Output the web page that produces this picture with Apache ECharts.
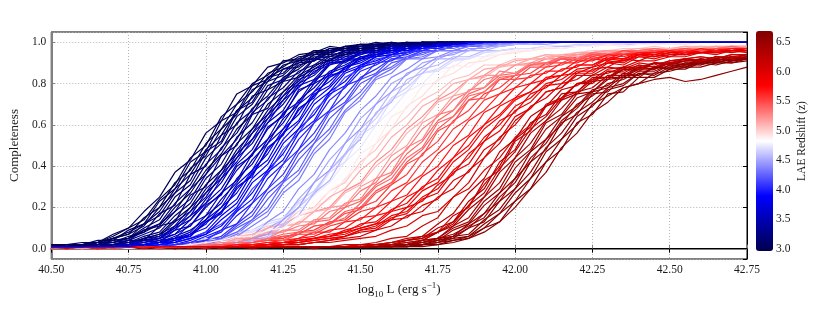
<!DOCTYPE html>
<html>
<head>
<meta charset="utf-8">
<title>LAE completeness</title>
<script src="https://cdn.jsdelivr.net/npm/echarts@6/dist/echarts.min.js"></script>
<style>
  html, body { margin: 0; padding: 0; background: #fff; }
  #main { width: 830px; height: 323px; }
</style>
</head>
<body>
<div id="main"></div>
<script>
// log10 L grid the completeness was sampled on
var lumGrid = [40.50, 40.55, 40.60, 40.65, 40.70, 40.75, 40.80, 40.85, 40.90, 40.95,
               41.00, 41.05, 41.10, 41.15, 41.20, 41.25, 41.30, 41.35, 41.40, 41.45,
               41.50, 41.55, 41.60, 41.65, 41.70, 41.75, 41.80, 41.85, 41.90, 41.95,
               42.00, 42.05, 42.10, 42.15, 42.20, 42.25, 42.30, 42.35, 42.40, 42.45,
               42.50, 42.55, 42.60, 42.65, 42.70, 42.75];

// redshift of each curve (same order as completeness)
var redshifts = [6.62, 3.00, 6.12, 4.65, 3.35, 5.45, 3.75, 6.42, 5.05, 3.05,
                 5.82, 4.20, 6.28, 3.10, 5.25, 3.85, 6.50, 4.75, 3.42, 5.65,
                 3.15, 6.20, 4.30, 5.32, 3.50, 6.60, 3.92, 5.90, 3.22, 4.85,
                 6.35, 3.55, 5.40, 4.40, 4.00, 5.95, 3.28, 6.55, 4.95, 3.62,
                 5.55, 4.50, 4.08, 6.00, 3.08, 5.15, 3.68, 6.05, 4.58, 4.12,
                 6.45, 2.99, 5.75, 3.45,
                 6.10, 3.02, 5.10, 3.45, 4.15, 6.48, 3.10, 5.58, 3.52, 4.70,
                 6.64, 3.18, 5.80, 3.60, 4.25, 6.38, 3.25, 5.20, 3.70, 4.35,
                 6.67, 3.30, 5.92, 3.78, 4.45, 6.25, 3.02, 5.30, 3.88, 4.55,
                 6.52, 3.38, 5.38, 3.95, 4.90, 6.58, 2.98, 5.48, 4.05, 6.30,
                 3.12, 5.70, 3.55, 5.98, 3.20, 3.72];

// completeness in percent, one row per curve, one value per lumGrid point
var completeness = [
  [1,1,1,1,1,1,1,1,1,1, 1,1,1,1,1,1,1,1,1,1, 1,1,1,1,1,2,3,5,8,13, 20,29,37,49,56,66,71,78,80,85, 86,88,88,90,90,91],
  [2,1,2,3,6,10,14,24,31,44, 50,64,70,80,84,91,92,96,96,98, 99,98,99,100,99,100,100,100,100,100, 100,100,100,100,100,100,100,100,100,100, 100,100,100,100,100,100],
  [1,1,0,1,1,1,1,1,1,1, 1,1,1,1,1,1,1,1,1,2, 2,3,5,6,11,15,25,32,44,51, 62,68,76,78,84,84,88,87,90,89, 91,92,93,92,94,94],
  [1,0,1,1,1,1,1,1,2,3, 4,5,8,9,13,15,23,28,38,45, 56,63,73,78,85,87,92,92,95,96, 97,96,98,98,99,99,99,99,100,99, 100,100,100,100,100,100],
  [1,1,2,1,2,2,5,7,11,20, 27,38,46,58,65,76,81,89,91,95, 95,97,98,99,98,99,100,100,100,100, 100,100,100,100,100,100,100,100,100,100, 100,100,100,100,100,100],
  [0,1,1,1,1,1,1,1,1,1, 1,2,3,4,5,6,7,11,12,18, 20,28,32,42,48,58,64,72,76,82, 84,89,89,92,92,94,94,95,95,96, 96,97,96,97,97,97],
  [1,1,1,1,1,1,2,2,4,7, 12,20,27,38,46,58,65,76,81,88, 91,94,95,97,97,98,99,99,100,100, 100,100,100,100,100,100,100,100,100,100, 100,100,100,100,100,100],
  [1,1,1,1,1,1,1,1,0,1, 1,1,1,1,1,1,1,1,1,1, 1,1,1,2,3,4,9,12,21,27, 39,47,58,64,73,76,82,83,87,87, 90,89,91,91,93,92],
  [0,1,1,1,1,1,1,1,2,3, 4,5,7,8,11,12,18,20,28,32, 42,48,58,64,72,76,82,84,89,89, 92,92,94,94,95,96,96,97,97,98, 97,98,98,98,98,98],
  [1,2,1,3,5,7,11,20,27,39, 45,58,65,77,81,89,91,95,95,97, 98,99,98,99,100,99,100,100,100,100, 100,100,100,100,100,100,100,100,100,100, 100,100,100,100,100,100],
  [1,1,1,1,1,0,1,1,1,1, 1,1,1,1,2,3,4,5,6,8, 10,12,18,20,28,32,42,48,58,64, 72,76,82,84,89,89,92,92,94,94, 95,96,95,96,97,96],
  [0,1,1,1,1,1,1,1,1,2, 3,5,10,14,24,32,43,51,63,70, 80,84,90,92,95,96,98,98,99,100, 100,100,100,100,100,100,100,100,100,100, 100,100,100,100,100,100],
  [1,1,1,1,0,1,1,1,1,1, 1,1,1,1,1,1,1,1,1,1, 1,1,2,3,4,8,12,21,27,39, 47,58,64,73,76,82,83,87,87,90, 89,91,91,93,92,93],
  [1,1,2,2,4,5,10,14,25,31, 44,51,64,70,81,84,91,92,96,97, 97,99,99,98,100,100,99,100,100,100, 100,100,100,100,100,100,100,100,100,100, 100,100,100,100,100,100],
  [1,1,1,0,1,1,1,1,1,2, 3,4,5,7,7,11,12,18,20,28, 32,42,48,58,64,72,76,82,84,89, 89,92,92,94,94,95,96,95,96,97, 97,97,98,97,98,98],
  [0,1,1,1,1,1,1,2,3,5, 8,16,22,34,41,53,61,72,78,86, 89,93,94,97,97,99,99,100,100,100, 100,100,100,100,100,100,100,100,100,100, 100,100,100,100,100,100],
  [1,0,1,1,1,1,1,1,1,1, 1,1,1,1,1,1,1,1,1,1, 1,1,1,2,3,5,7,11,15,25, 32,44,51,62,68,76,78,84,84,88, 87,89,89,91,90,92],
  [0,1,1,1,1,1,1,1,1,2, 3,4,6,9,10,15,18,26,32,42, 49,60,67,76,80,87,88,93,93,96, 96,97,97,98,98,99,99,99,99,100, 99,100,100,100,100,100],
  [1,1,1,1,1,2,3,5,10,14, 24,32,44,51,63,70,80,84,91,92, 95,96,98,99,99,100,99,100,100,100, 100,100,100,100,100,100,100,100,100,100, 100,100,100,100,100,100],
  [1,0,1,1,1,1,1,1,1,1, 1,1,2,2,3,4,5,8,8,13, 14,20,23,31,36,46,52,62,67,75, 78,84,85,90,90,93,92,95,94,96, 96,96,97,96,97,97],
  [1,1,1,2,3,5,8,12,18,29, 36,49,56,68,74,83,87,93,93,96, 97,98,97,99,99,100,99,100,100,100, 100,100,100,100,100,100,100,100,100,100, 100,100,100,100,100,100],
  [1,0,1,1,1,1,1,1,1,1, 1,1,1,1,1,1,1,1,1,1, 2,2,3,4,5,8,13,21,31,40, 53,59,70,73,80,81,86,86,89,88, 90,91,92,91,93,93],
  [1,1,0,1,1,1,1,1,1,2, 2,4,7,13,18,29,36,48,56,67, 74,83,87,92,93,96,96,98,98,99, 99,100,100,100,100,100,100,100,100,100, 100,100,100,100,100,100],
  [0,1,1,1,1,1,1,1,1,1, 2,3,4,5,7,8,11,12,18,20, 28,32,42,48,58,64,72,76,82,84, 89,89,92,92,94,94,95,95,96,96, 97,96,97,97,98,97],
  [1,1,1,1,1,2,3,4,7,11, 20,27,38,46,58,65,76,81,89,91, 94,96,97,97,98,99,99,100,100,100, 100,100,100,100,100,100,100,100,100,100, 100,100,100,100,100,100],
  [1,1,1,1,1,1,1,1,1,1, 1,1,1,1,1,1,1,1,1,1, 1,1,1,1,2,3,4,6,10,17, 23,34,42,53,60,70,74,78,80,82, 83,81,82,84,86,88],
  [1,1,1,1,1,1,1,2,2,4, 7,11,19,27,38,46,58,65,76,81, 89,91,94,95,97,98,98,99,99,100, 100,100,100,100,100,100,100,100,100,100, 100,100,100,100,100,100],
  [0,1,1,1,1,1,1,1,1,1, 1,1,1,1,2,2,3,4,5,6, 9,11,16,18,25,29,38,44,54,60, 69,73,80,82,87,88,92,91,94,93, 95,95,96,96,96,97],
  [1,1,1,2,2,3,6,8,16,22, 34,41,54,61,73,78,86,89,94,95, 97,97,99,98,99,100,100,99,100,100, 100,100,100,100,100,100,100,100,100,100, 100,100,100,100,100,100],
  [1,1,0,1,1,1,1,1,1,2, 3,3,5,8,9,13,15,23,28,38, 45,56,63,73,78,85,87,92,92,95, 96,97,97,98,98,99,98,99,99,100, 99,100,100,100,100,100],
  [1,1,1,0,1,1,1,1,1,1, 1,1,1,1,1,1,1,1,1,1, 1,1,2,2,4,5,11,15,25,32, 44,51,62,68,76,78,84,84,88,87, 90,89,92,91,93,92],
  [1,1,1,1,1,1,2,3,5,8, 16,22,34,41,53,61,72,78,86,89, 93,94,97,98,98,99,100,100,100,100, 100,100,100,100,100,100,100,100,100,100, 100,100,100,100,100,100],
  [1,1,0,1,1,1,1,1,1,1, 2,2,3,4,5,7,8,13,14,20, 23,31,36,46,52,62,67,75,78,84, 85,89,90,92,93,94,94,95,96,96, 97,96,97,97,97,98],
  [1,1,1,1,1,1,1,1,1,1, 2,2,4,6,13,18,29,36,48,56, 67,74,83,87,92,93,96,96,98,98, 99,99,100,100,100,100,100,100,100,100, 100,100,100,100,100,100],
  [0,1,1,1,1,1,1,1,2,3, 5,8,16,22,34,41,53,61,72,78, 86,89,93,94,97,97,99,99,100,100, 100,100,100,100,100,100,100,100,100,100, 100,100,100,100,100,100],
  [1,1,0,1,1,1,1,1,1,1, 1,1,2,1,2,3,3,5,6,7, 10,12,14,20,23,31,36,46,52,62, 66,75,78,84,85,88,90,91,93,93, 94,94,95,95,96,96],
  [1,1,1,1,2,3,4,6,13,18, 29,36,48,56,67,74,83,87,92,94, 96,97,97,98,99,99,100,99,100,100, 100,100,100,100,100,100,100,100,100,100, 100,100,100,100,100,100],
  [1,1,1,1,1,1,1,1,1,1, 1,1,1,0,1,1,1,1,1,1, 1,1,1,1,2,3,6,7,14,19, 29,37,49,56,66,71,78,80,85,85, 89,88,91,90,92,92],
  [1,1,1,1,0,1,1,1,1,1, 2,3,4,7,8,11,13,20,24,34, 40,51,58,69,74,82,85,90,91,94, 95,96,97,97,98,98,99,98,99,99, 99,99,100,100,100,100],
  [1,0,1,1,1,1,2,3,4,6, 13,18,29,36,48,56,67,74,83,87, 92,93,96,96,98,98,99,99,100,100, 100,100,100,100,100,100,100,100,100,100, 100,100,100,100,100,100],
  [1,1,1,1,0,1,1,1,1,1, 1,2,2,3,5,5,8,9,13,14, 20,23,31,36,46,52,62,67,75,78, 84,85,90,90,93,93,95,94,96,95, 96,97,97,96,97,97],
  [1,1,1,1,1,1,1,1,1,1, 1,2,3,5,10,14,24,32,43,51, 63,70,80,84,90,92,95,96,98,98, 99,99,99,100,100,100,100,100,100,100, 100,100,100,100,100,100],
  [1,1,1,1,1,1,1,1,2,2, 4,6,12,18,29,36,48,56,67,74, 83,87,92,93,96,96,98,98,99,99, 100,100,100,100,100,100,100,100,100,100, 100,100,100,100,100,100],
  [1,1,1,1,1,1,1,1,1,1, 0,1,1,1,1,2,2,3,3,4, 5,6,9,11,16,18,25,29,38,44, 54,60,69,73,80,82,87,88,91,91, 93,93,95,94,96,95],
  [2,1,2,2,5,8,12,18,29,36, 48,55,67,73,83,87,90,94,95,97, 97,98,99,99,99,100,100,100,100,100, 100,100,100,100,100,100,100,100,100,100, 100,100,100,100,100,100],
  [1,0,1,1,1,1,1,1,2,2, 3,4,6,7,10,12,16,18,25,29, 38,44,54,60,69,73,80,82,87,88, 91,92,94,93,95,95,96,96,97,97, 97,98,97,98,98,98],
  [1,1,1,1,2,2,4,5,9,16, 22,34,42,53,61,72,78,86,89,93, 94,97,97,99,98,100,100,100,100,100, 100,100,100,100,100,100,100,100,100,100, 100,100,100,100,100,100],
  [1,1,1,1,1,1,1,1,0,1, 1,1,1,1,1,2,2,3,4,5, 6,9,11,16,18,25,29,38,44,54, 60,69,73,80,82,87,88,92,91,94, 93,95,95,96,95,96],
  [1,1,1,1,1,1,1,1,1,1, 1,2,3,4,6,12,20,27,38,46, 58,65,76,80,87,89,93,93,96,96, 97,97,98,98,98,99,99,99,99,100, 100,100,100,100,100,100],
  [1,1,1,1,1,1,2,2,3,5, 8,12,18,29,36,48,56,67,74,83, 87,92,93,96,96,98,99,99,100,100, 100,100,100,100,100,100,100,100,100,100, 100,100,100,100,100,100],
  [1,1,1,1,1,1,1,0,1,1, 1,1,1,1,1,1,1,1,1,1, 1,1,2,2,3,4,6,10,17,23, 34,42,53,60,70,74,80,82,86,86, 89,89,90,92,91,93],
  [1,2,1,3,3,5,9,11,20,27, 38,46,58,65,77,81,89,91,95,97, 96,98,99,98,100,99,100,100,100,100, 100,100,100,100,100,100,100,100,100,100, 100,100,100,100,100,100],
  [1,1,1,0,1,1,1,1,1,1, 1,1,1,2,2,3,4,5,6,9, 11,16,18,25,29,38,44,54,60,69, 73,80,82,87,88,92,91,94,94,95, 96,95,96,97,96,97],
  [1,1,1,1,1,2,2,3,6,9, 14,24,32,43,51,63,70,80,84,91, 92,95,96,98,99,99,100,100,100,100, 100,100,100,100,100,100,100,100,100,100, 100,100,100,100,100,100],
  [1,1,1,1,1,1,1,1,1,1, 1,1,1,1,1,1,1,1,1,1, 2,2,3,4,6,8,16,20,33,38, 52,57,69,72,80,80,86,85,89,88, 91,92,93,92,94,94],
  [2,2,3,3,7,10,18,25,37,43, 56,62,75,79,88,90,94,95,98,97, 99,99,100,99,100,100,100,100,100,100, 100,100,100,100,100,100,100,100,100,100, 100,100,100,100,100,100],
  [0,1,1,1,1,1,1,1,1,3, 2,4,4,6,7,11,12,18,19,27, 31,40,46,56,62,71,74,82,83,88, 89,92,92,94,93,95,95,96,96,97, 97,97,98,97,98,98],
  [1,1,1,1,1,2,5,6,10,18, 25,36,44,56,63,74,80,87,90,94, 95,97,97,99,98,99,100,100,100,100, 100,100,100,100,100,100,100,100,100,100, 100,100,100,100,100,100],
  [1,1,1,1,1,1,1,1,2,2, 4,5,11,16,27,33,46,53,66,71, 82,85,92,92,96,96,98,99,99,100, 100,100,100,100,100,100,100,100,100,100, 100,100,100,100,100,100],
  [1,1,1,1,1,1,1,1,1,1, 1,1,1,1,1,1,1,1,1,1, 1,1,2,2,4,5,10,13,23,29, 42,48,61,65,75,76,83,83,88,87, 90,89,92,91,93,92],
  [1,2,2,4,4,9,12,23,29,42, 47,62,66,79,82,91,91,96,95,98, 98,100,99,99,100,100,100,100,100,100, 100,100,100,100,100,100,100,100,100,100, 100,100,100,100,100,100],
  [1,1,1,1,1,1,1,0,1,1, 1,2,2,3,4,4,7,7,11,13, 18,20,28,32,42,48,58,63,72,75, 82,83,88,89,92,92,94,94,95,96, 96,96,97,96,97,97],
  [1,1,1,1,1,2,3,5,7,14, 22,29,41,48,61,67,79,82,90,91, 95,95,98,97,99,99,100,100,100,100, 100,100,100,100,100,100,100,100,100,100, 100,100,100,100,100,100],
  [1,1,0,1,1,1,1,1,2,3, 5,4,8,8,12,14,22,26,37,42, 55,60,72,76,85,86,91,92,95,96, 97,97,98,97,98,99,99,99,100,99, 100,100,100,100,100,100],
  [1,1,1,1,1,1,1,1,0,1, 1,1,1,1,1,1,1,1,1,1, 1,1,1,1,2,3,5,6,12,17, 27,34,47,53,64,69,77,79,85,84, 88,88,90,90,92,92],
  [1,1,2,2,4,5,12,16,27,33, 47,52,67,71,83,85,92,92,97,96, 98,98,99,100,99,100,100,100,100,100, 100,100,100,100,100,100,100,100,100,100, 100,100,100,100,100,100],
  [1,1,1,1,1,1,1,1,1,1, 1,1,1,2,2,3,4,5,7,8, 12,13,19,22,30,34,44,50,60,65, 73,76,83,84,89,89,93,92,95,94, 96,95,97,96,97,97],
  [1,1,1,1,1,2,2,4,5,12, 16,27,33,46,53,66,71,82,85,92, 92,96,96,98,99,99,100,100,100,100, 100,100,100,100,100,100,100,100,100,100, 100,100,100,100,100,100],
  [1,1,1,1,1,1,1,1,1,2, 3,5,8,14,20,32,38,51,58,70, 76,85,88,93,94,97,97,99,99,100, 100,100,100,100,100,100,100,100,100,100, 100,100,100,100,100,100],
  [1,1,1,1,1,1,1,1,1,0, 1,1,1,1,1,1,1,1,1,1, 1,1,2,3,4,8,11,19,25,37, 44,56,62,72,75,81,82,87,86,90, 89,91,91,93,92,93],
  [1,1,1,2,3,4,9,12,22,29, 41,48,61,67,79,82,90,91,96,96, 98,98,99,99,100,100,100,100,100,100, 100,100,100,100,100,100,100,100,100,100, 100,100,100,100,100,100],
  [1,1,0,1,1,1,1,1,1,2, 3,2,5,5,8,8,13,13,20,21, 30,34,45,50,61,65,74,76,84,84, 89,90,93,93,94,95,96,95,96,97, 96,97,97,98,97,98],
  [1,1,1,1,1,1,2,3,5,7, 14,20,31,38,51,58,70,76,85,88, 93,94,97,97,99,98,100,100,100,100, 100,100,100,100,100,100,100,100,100,100, 100,100,100,100,100,100],
  [1,1,1,1,1,1,1,1,1,1, 2,4,6,11,16,27,33,46,53,66, 72,82,85,92,92,96,96,98,99,99, 100,100,100,100,100,100,100,100,100,100, 100,100,100,100,100,100],
  [1,1,1,1,1,1,1,1,1,1, 1,1,1,1,1,1,1,1,1,1, 1,1,1,1,2,2,4,5,10,13, 23,29,42,48,61,65,75,76,83,83, 87,87,90,89,91,92],
  [1,1,1,2,2,4,7,10,18,24, 36,45,53,66,72,82,85,92,93,96, 96,98,99,98,100,99,100,100,100,100, 100,100,100,100,100,100,100,100,100,100, 100,100,100,100,100,100],
  [1,0,1,1,1,1,1,1,1,1, 1,1,1,1,2,2,3,4,5,6, 9,10,15,17,24,27,37,41,52,57, 67,71,79,80,86,86,91,90,94,93, 95,94,96,96,96,97],
  [1,1,1,1,1,1,1,3,3,7, 10,18,24,37,43,56,62,75,79,88, 90,94,95,97,98,99,99,100,100,100, 100,100,100,100,100,100,100,100,100,100, 100,100,100,100,100,100],
  [1,1,1,1,1,1,1,1,1,1, 1,2,3,5,7,14,20,32,38,51, 58,70,76,85,88,93,94,97,97,99, 99,100,100,100,100,100,100,100,100,100, 100,100,100,100,100,100],
  [1,1,1,1,1,0,1,1,1,1, 1,1,1,1,1,1,1,1,1,1, 1,2,3,5,6,12,17,27,34,47, 53,64,69,77,79,84,85,88,88,90, 90,92,91,93,93,94],
  [1,1,1,1,2,3,5,7,14,20, 31,38,51,58,70,76,84,88,93,94, 97,97,99,99,98,100,100,100,100,100, 100,100,100,100,100,100,100,100,100,100, 100,100,100,100,100,100],
  [1,1,1,1,1,0,1,1,1,1, 2,3,3,5,5,9,9,14,15,22, 24,34,37,49,53,65,67,77,78,86, 85,90,90,93,92,95,94,96,95,97, 96,97,97,97,98,97],
  [1,1,1,1,1,1,1,2,3,5, 7,14,20,32,38,51,58,70,76,85, 88,93,94,97,97,99,99,100,100,100, 100,100,100,100,100,100,100,100,100,100, 100,100,100,100,100,100],
  [1,1,1,1,1,1,1,1,1,1, 1,2,2,4,5,11,16,27,33,46, 53,66,71,82,85,92,92,96,96,98, 99,99,100,100,100,100,100,100,100,100, 100,100,100,100,100,100],
  [1,1,1,1,1,1,1,1,1,1, 1,1,1,1,1,1,1,0,1,1, 1,1,1,2,3,5,6,12,17,27, 34,47,53,64,69,77,79,85,84,88, 88,90,90,92,91,93],
  [1,1,1,1,2,3,4,5,11,16, 27,34,46,53,65,72,82,85,92,93, 96,96,98,98,99,100,99,100,100,100, 100,100,100,100,100,100,100,100,100,100, 100,100,100,100,100,100],
  [1,1,1,1,1,1,1,1,1,1, 2,2,3,3,5,4,8,8,12,15, 22,30,34,44,49,61,64,74,76,83, 84,89,90,93,92,95,94,96,96,97, 96,97,96,97,98,97],
  [1,1,1,1,1,1,1,1,2,3, 6,9,18,24,37,43,56,62,75,79, 88,90,94,95,98,97,99,99,100,100, 100,100,100,100,100,100,100,100,100,100, 100,100,100,100,100,100],
  [1,1,1,1,1,0,1,1,1,2, 3,4,6,6,9,10,16,19,28,33, 46,51,64,68,79,81,89,88,93,94, 96,96,98,97,98,98,99,98,99,99, 99,100,100,100,100,100],
  [1,1,1,1,1,1,1,1,1,1, 1,1,1,1,1,1,1,1,1,1, 1,1,1,2,2,4,5,10,13,23, 29,42,48,61,65,75,76,83,83,88, 87,90,89,92,91,92],
  [2,1,2,3,5,7,15,20,32,38, 51,58,70,76,85,88,93,94,97,97, 99,99,99,100,100,100,100,100,100,100, 100,100,100,100,100,100,100,100,100,100, 100,100,100,100,100,100],
  [0,1,1,1,1,1,1,1,1,1, 1,2,2,3,4,6,7,11,12,17, 19,27,31,41,45,57,61,72,73,82, 82,88,88,92,91,94,93,96,95,96, 96,97,96,97,97,97],
  [1,1,1,1,1,1,1,1,2,3, 4,9,12,22,29,41,48,61,67,79, 82,90,91,95,96,98,98,99,100,100, 100,100,100,100,100,100,100,100,100,100, 100,100,100,100,100,100],
  [1,1,1,1,1,1,1,1,1,1, 1,0,1,1,1,1,1,1,1,1, 1,2,2,4,5,10,13,23,29,42, 48,61,65,75,76,83,83,88,87,90, 89,92,91,93,92,94],
  [1,1,1,3,3,6,8,17,21,36, 40,55,60,74,77,87,88,94,94,98, 97,99,100,99,100,100,100,100,100,100, 100,100,100,100,100,100,100,100,100,100, 100,100,100,100,100,100],
  [1,1,1,0,1,1,1,1,1,1, 1,1,2,2,3,3,5,6,9,10, 15,16,23,26,35,40,50,55,66,70, 78,80,86,86,91,91,94,93,95,95, 96,95,97,96,97,97],
  [1,1,1,1,1,2,4,3,9,11, 21,26,40,45,59,64,77,80,90,90, 95,95,98,97,99,98,100,100,100,100, 100,100,100,100,100,100,100,100,100,100, 100,100,100,100,100,100],
  [1,1,1,1,1,1,0,1,1,1, 1,1,1,1,1,2,2,3,4,6, 8,9,14,15,21,24,33,37,48,53, 64,68,76,78,85,85,90,89,93,92, 94,94,95,95,96,96],
  [1,1,1,2,2,4,4,11,13,26, 30,45,50,65,68,81,83,92,91,96, 96,98,99,99,99,100,100,100,100,100, 100,100,100,100,100,100,100,100,100,100, 100,100,100,100,100,100],
  [1,1,1,1,1,1,2,3,5,6, 13,17,30,35,49,55,68,73,84,86, 93,93,97,96,98,98,99,100,100,100, 100,100,100,100,100,100,100,100,100,100, 100,100,100,100,100,100]
];

var zMin = 2.966, zMax = 6.69;
var seismicColors = ['#00004d', '#0000ff', '#ffffff', '#ff0000', '#800000'];

function hexRgb(h) {
  return [parseInt(h.substr(1, 2), 16), parseInt(h.substr(3, 2), 16), parseInt(h.substr(5, 2), 16)];
}
// same ramp as the visualMap colour bar
function zColor(z) {
  var t = Math.max(0, Math.min(1, (z - zMin) / (zMax - zMin))) * 4;
  var i = Math.min(3, Math.floor(t)), f = t - i;
  var a = hexRgb(seismicColors[i]), b = hexRgb(seismicColors[i + 1]);
  var c = [0, 1, 2].map(function (j) { return Math.round(a[j] + (b[j] - a[j]) * f); });
  return 'rgb(' + c.join(',') + ')';
}

var serif = 'Liberation Serif';
var txt = '#1a1a1a';

var series = completeness.map(function (vals, k) {
  var col = zColor(redshifts[k]);
  return {
    type: 'line',
    xAxisIndex: 0,
    yAxisIndex: 0,
    data: lumGrid.map(function (L, i) { return [L, vals[i] / 100]; }),
    showSymbol: false,
    symbol: 'none',
    silent: true,
    lineStyle: { width: 1.2, color: col },
    itemStyle: { color: col }
  };
});

var chart = echarts.init(document.getElementById('main'), null, { renderer: 'canvas' });
chart.setOption({
  backgroundColor: '#fff',
  animation: false,
  grid: [
    { left: 50, top: 32, width: 697, height: 227, show: true, borderColor: '#000', borderWidth: 1 },
    { left: 756, top: 31, width: 17, height: 220 }
  ],
  xAxis: [
    {
      gridIndex: 0, type: 'value', min: 40.5, max: 42.75, interval: 0.25,
      axisLine: { lineStyle: { color: '#808080', width: 2 } },
      axisTick: { inside: true, length: 4, lineStyle: { color: '#808080' } },
      axisLabel: { formatter: function (v) { return v.toFixed(2); }, color: txt, fontFamily: serif, fontSize: 11.5, margin: 5 },
      splitLine: { show: true, lineStyle: { color: '#b4b4b4', type: [1, 2] } },
      name: '{a|log}{s|10}{a| L (erg s}{p|\u22121}{a|)}',
      nameLocation: 'middle', nameGap: 18,
      nameTextStyle: {
        color: txt, fontFamily: serif, fontSize: 13,
        rich: {
          a: { fontFamily: serif, fontSize: 13, lineHeight: 18, color: txt },
          s: { fontFamily: serif, fontSize: 9, lineHeight: 10, verticalAlign: 'bottom', color: txt },
          p: { fontFamily: serif, fontSize: 9, lineHeight: 10, verticalAlign: 'top', color: txt }
        }
      }
    },
    {
      gridIndex: 0, type: 'value', position: 'top', min: 40.5, max: 42.75, interval: 0.25,
      axisLine: { lineStyle: { color: '#000', width: 1 } },
      axisTick: { inside: true, length: 4, lineStyle: { color: '#000' } },
      axisLabel: { show: false }, splitLine: { show: false }
    },
    { gridIndex: 1, type: 'value', min: 0, max: 1, show: false }
  ],
  yAxis: [
    {
      gridIndex: 0, type: 'value', min: -0.05, max: 1.05, minInterval: 0.2, maxInterval: 0.2,
      axisLine: { lineStyle: { color: '#808080', width: 2 } },
      axisTick: { inside: true, length: 4, lineStyle: { color: '#808080' } },
      axisLabel: {
        formatter: function (v) { return v.toFixed(1); }, color: txt, fontFamily: serif, fontSize: 11.5,
        margin: 5, showMinLabel: false, showMaxLabel: false
      },
      splitLine: { show: true, lineStyle: { color: '#b4b4b4', type: [1, 2] } },
      name: 'Completeness', nameLocation: 'middle', nameGap: 25,
      nameTextStyle: { color: txt, fontFamily: serif, fontSize: 13 }
    },
    {
      gridIndex: 0, type: 'value', position: 'right', min: -0.05, max: 1.05, minInterval: 0.2, maxInterval: 0.2,
      axisLine: { lineStyle: { color: '#000', width: 1 } },
      axisTick: { inside: true, length: 4, lineStyle: { color: '#000' } },
      axisLabel: { show: false }, splitLine: { show: false }
    },
    {
      gridIndex: 1, type: 'value', position: 'right', min: zMin, max: zMax, minInterval: 0.5, maxInterval: 0.5,
      axisLine: { show: false }, axisTick: { show: false }, splitLine: { show: false },
      axisLabel: {
        formatter: function (v) { return v.toFixed(1); }, color: txt, fontFamily: serif, fontSize: 11.5,
        margin: 3, showMinLabel: false, showMaxLabel: false
      },
      name: 'LAE Redshift (z)', nameLocation: 'middle', nameRotate: 90, nameGap: 23,
      nameTextStyle: { color: txt, fontFamily: serif, fontSize: 11.5 }
    }
  ],
  visualMap: {
    type: 'continuous', seriesIndex: [], min: zMin, max: zMax,
    inRange: { color: seismicColors },
    orient: 'vertical', left: 756, top: 31, itemWidth: 17, itemHeight: 220,
    padding: 0, calculable: false, hoverLink: false, text: null, showLabel: false
  },
  series: series
});
</script>
</body>
</html>
